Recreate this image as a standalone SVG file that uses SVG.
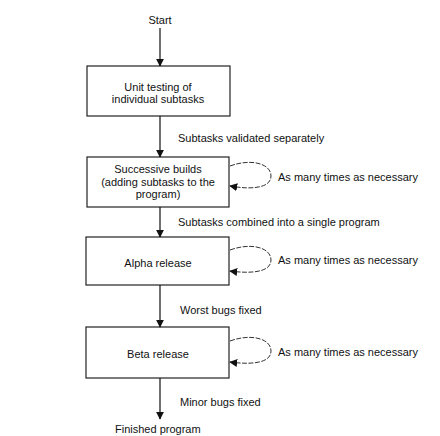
<svg xmlns="http://www.w3.org/2000/svg" width="440" height="436" viewBox="0 0 440 436">
<defs>
<marker id="ah" viewBox="0 0 10 10" refX="9" refY="5" markerWidth="8" markerHeight="8" orient="auto" markerUnits="userSpaceOnUse">
<path d="M0,0 L10,5 L0,10 z" fill="#111"/>
</marker>
<marker id="lh" viewBox="0 0 10 10" refX="9" refY="5" markerWidth="8" markerHeight="8" orient="auto" markerUnits="userSpaceOnUse">
<path d="M0,0 L10,5 L0,10 z" fill="#111"/>
</marker>
</defs>
<style>
text{font-family:"Liberation Sans",Arial,sans-serif;font-size:11px;fill:#111;}
.c{text-anchor:middle;}
.box{fill:#fff;stroke:#222;stroke-width:1.2;}
.ln{stroke:#111;stroke-width:1.2;fill:none;}
.loop{stroke:#333;stroke-width:1;fill:none;stroke-dasharray:5 1.5;}
</style>
<rect width="440" height="436" fill="#fff"/>
<g id="start"><text class="c" x="160" y="24">Start</text></g>
<g id="n1">
<rect class="box" x="87" y="66" width="143" height="50"/>
<text class="c" x="158" y="91">Unit testing of</text>
<text class="c" x="158" y="103">individual subtasks</text>
</g>
<g id="n2">
<rect class="box" x="87" y="157" width="142" height="50"/>
<text class="c" x="158" y="173">Successive builds</text>
<text class="c" x="158" y="186">(adding subtasks to the</text>
<text class="c" x="158" y="198">program)</text>
</g>
<g id="n3">
<rect class="box" x="86" y="237" width="143" height="48"/>
<text class="c" x="158" y="267">Alpha release</text>
</g>
<g id="n4">
<rect class="box" x="86" y="327" width="143" height="51"/>
<text class="c" x="158" y="358">Beta release</text>
</g>
<g id="finish"><text x="115" y="433">Finished program</text></g>
<g id="connectors">
<line class="ln" x1="160" y1="28" x2="160" y2="66" marker-end="url(#ah)"/>
<line class="ln" x1="160" y1="116" x2="160" y2="157" marker-end="url(#ah)"/>
<line class="ln" x1="160" y1="207" x2="160" y2="237" marker-end="url(#ah)"/>
<line class="ln" x1="160" y1="285" x2="160" y2="327" marker-end="url(#ah)"/>
<line class="ln" x1="160" y1="378" x2="160" y2="419" marker-end="url(#ah)"/>
<path class="loop" d="M230,166 C252,158 271,164 271,176 C271,188 252,190 230,186" marker-end="url(#lh)"/>
<path class="loop" d="M230,250 C252,242 271,248 271,260 C271,272 252,274 230,271" marker-end="url(#lh)"/>
<path class="loop" d="M230,341 C252,333 271,339 271,351 C271,363 252,365 230,362" marker-end="url(#lh)"/>
<text x="178" y="142">Subtasks validated separately</text>
<text x="278" y="181">As many times as necessary</text>
<text x="178" y="226">Subtasks combined into a single program</text>
<text x="278" y="264">As many times as necessary</text>
<text x="180" y="314">Worst bugs fixed</text>
<text x="278" y="356">As many times as necessary</text>
<text x="180" y="406">Minor bugs fixed</text>
</g>
</svg>
